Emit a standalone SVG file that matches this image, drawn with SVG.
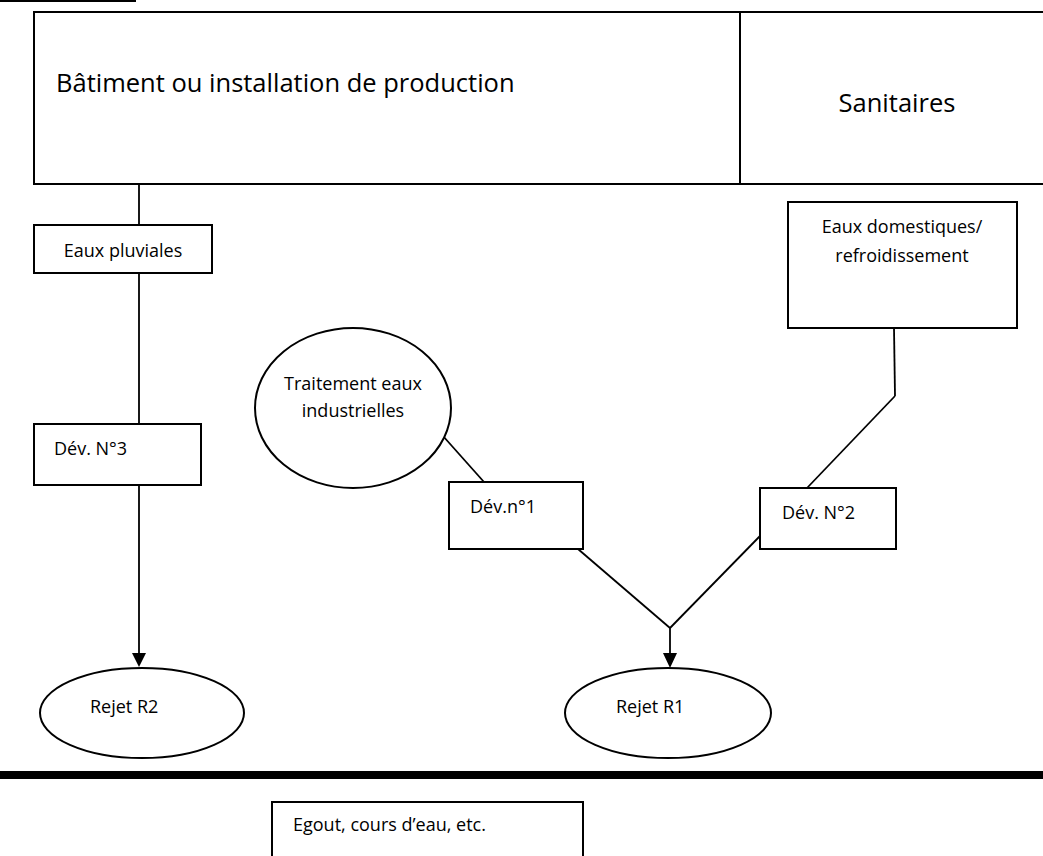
<svg xmlns="http://www.w3.org/2000/svg" width="1043" height="856" viewBox="0 0 1043 856">
<defs>
<style>
.b{fill:#fff;stroke:#000;stroke-width:2}
.t{font-family:"Open Sans","Liberation Sans",sans-serif;fill:#000}
.s{font-size:18px}
.l{font-size:25.5px}
.c{fill:none;stroke:#000;stroke-width:1.8}
</style>
</defs>
<rect width="1043" height="856" fill="#fff"/>
<rect x="0" y="0" width="136" height="2" fill="#000"/>
<g id="connectors">
<line class="c" x1="139" y1="184" x2="139" y2="225"/>
<line class="c" x1="139" y1="273" x2="139" y2="424"/>
<line class="c" x1="139" y1="485" x2="139" y2="653"/>
<path d="M132,653 L146,653 L139,667 Z"/>
<line class="c" x1="443" y1="436" x2="484" y2="482"/>
<line class="c" x1="578" y1="549" x2="670" y2="628"/>
<line class="c" x1="760" y1="536" x2="670" y2="628"/>
<line class="c" x1="670" y1="628" x2="670" y2="653"/>
<path d="M663,653 L677,653 L670,668 Z"/>
<line class="c" x1="807" y1="488" x2="895" y2="396"/>
<line class="c" x1="895" y1="396" x2="894" y2="328"/>
</g>
<g id="batiment">
<rect class="b" x="34" y="12" width="1011" height="172"/>
<line x1="740" y1="12" x2="740" y2="184" stroke="#000" stroke-width="2"/>
<text class="t l" x="56" y="92">Bâtiment ou installation de production</text>
</g>
<g id="sanitaires">
<text class="t l" x="897" y="112" text-anchor="middle">Sanitaires</text>
</g>
<g id="eaux-pluviales">
<rect class="b" x="34" y="225" width="178" height="48"/>
<text class="t s" x="123" y="257" text-anchor="middle">Eaux pluviales</text>
</g>
<g id="dev3">
<rect class="b" x="34" y="424" width="167" height="61"/>
<text class="t s" x="54" y="455">Dév. N°3</text>
</g>
<g id="rejet-r2">
<ellipse class="b" cx="142" cy="713" rx="102" ry="45"/>
<text class="t s" x="90" y="713">Rejet R2</text>
</g>
<g id="traitement">
<ellipse class="b" cx="353" cy="408" rx="98" ry="80"/>
<text class="t s" x="353" y="390" text-anchor="middle">Traitement eaux</text>
<text class="t s" x="353" y="417" text-anchor="middle">industrielles</text>
</g>
<g id="dev1">
<rect class="b" x="449" y="482" width="134" height="67"/>
<text class="t s" x="470" y="513">Dév.n°1</text>
</g>
<g id="dev2">
<rect class="b" x="760" y="488" width="136" height="61"/>
<text class="t s" x="782" y="519">Dév. N°2</text>
</g>
<g id="eaux-domestiques">
<rect class="b" x="788" y="202" width="229" height="126"/>
<text class="t s" x="902" y="233" text-anchor="middle">Eaux domestiques/</text>
<text class="t s" x="902" y="262" text-anchor="middle">refroidissement</text>
</g>
<g id="rejet-r1">
<ellipse class="b" cx="668" cy="713" rx="103" ry="45"/>
<text class="t s" x="616" y="713">Rejet R1</text>
</g>
<rect x="0" y="771" width="1043" height="8" fill="#000"/>
<g id="egout">
<rect class="b" x="272" y="802" width="311" height="70"/>
<text class="t s" x="293" y="831">Egout, cours d’eau, etc.</text>
</g>
</svg>
